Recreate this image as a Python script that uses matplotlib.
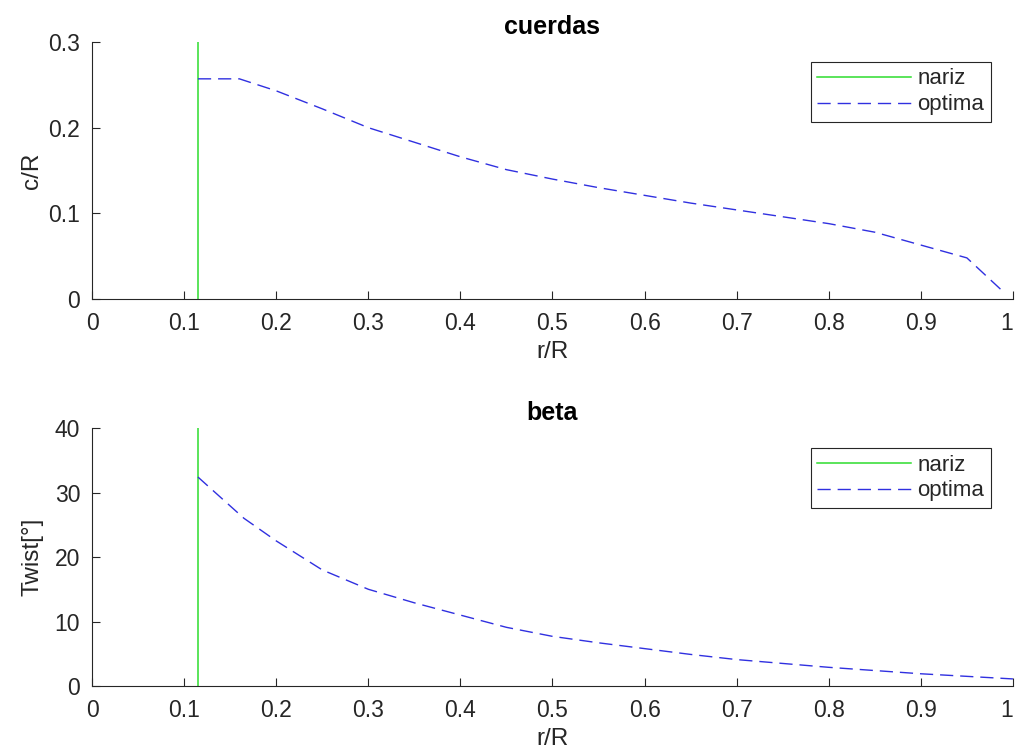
import matplotlib
matplotlib.use("Agg")
import matplotlib.pyplot as plt

# ---- data ----
r_nariz = 0.115
r_chord = [0.115, 0.16, 0.2, 0.25, 0.3, 0.35, 0.4, 0.45, 0.5, 0.55, 0.6,
           0.65, 0.7, 0.75, 0.8, 0.85, 0.9, 0.95, 0.99]
c_chord = [0.257, 0.257, 0.243, 0.222, 0.200, 0.183, 0.166, 0.151, 0.140,
           0.130, 0.121, 0.112, 0.104, 0.096, 0.088, 0.078, 0.063, 0.048, 0.008]
r_twist = [0.115, 0.165, 0.2, 0.25, 0.3, 0.35, 0.4, 0.45, 0.5, 0.55, 0.6,
           0.65, 0.7, 0.75, 0.8, 0.85, 0.9, 0.95, 1.0]
b_twist = [32.4, 26.0, 22.5, 18.0, 15.0, 12.9, 11.0, 9.1, 7.7, 6.7, 5.8,
           4.9, 4.1, 3.5, 2.9, 2.4, 1.9, 1.5, 1.1]
xticks = [0, 0.1, 0.2, 0.3, 0.4, 0.5, 0.6, 0.7, 0.8, 0.9, 1]
xticklabels = ["0", "0.1", "0.2", "0.3", "0.4", "0.5", "0.6", "0.7", "0.8", "0.9", "1"]
yticks_c = [0, 0.1, 0.2, 0.3]
yticklabels_c = ["0", "0.1", "0.2", "0.3"]
yticks_b = [0, 10, 20, 30, 40]

plt.rcParams['font.family'] = ['Liberation Sans', 'DejaVu Sans']
AX = '#262626'
GREEN = '#2edc2e'
BLUE = '#3030e0'
DASH = (0, (9.5, 5))

fig = plt.figure(figsize=(10.17, 7.5), dpi=100)
ax1 = fig.add_axes([0.0905, 0.6013, 0.9055, 0.3427])
ax2 = fig.add_axes([0.0905, 0.0853, 0.9055, 0.3440])


def style(ax):
    for s in ['top', 'right']:
        ax.spines[s].set_visible(False)
    for s in ['left', 'bottom']:
        ax.spines[s].set_color(AX)
        ax.spines[s].set_linewidth(0.8)
    ax.tick_params(direction='in', length=6, width=0.8, colors=AX,
                   labelsize=16.5)
    ax.tick_params(axis='x', pad=9.5)
    ax.tick_params(axis='y', pad=8.5)
    ax.set_xlim(0, 1)
    ax.set_xticks(xticks)
    ax.set_xticklabels(xticklabels)
    # keep the last label ("1") inside the figure edge
    ax.get_xticklabels()[-1].set_horizontalalignment('right')


# top
ax1.plot([r_nariz, r_nariz], [0, 0.3], color=GREEN, lw=1.1, label='nariz')
ax1.plot(r_chord, c_chord, color=BLUE, lw=1.0, ls=DASH, label='optima')
style(ax1)
ax1.set_ylim(0, 0.3)
ax1.set_yticks(yticks_c)
ax1.set_yticklabels(yticklabels_c)
ax1.set_xlabel('r/R', color=AX, fontsize=17.5, labelpad=4)
ax1.set_ylabel('c/R', color=AX, fontsize=17.5, labelpad=4)
ax1.set_title('cuerdas', fontweight='bold', fontsize=18, pad=6)

# bottom
ax2.plot([r_nariz, r_nariz], [0, 40], color=GREEN, lw=1.1, label='nariz')
ax2.plot(r_twist, b_twist, color=BLUE, lw=1.0, ls=DASH, label='optima')
style(ax2)
ax2.set_ylim(0, 40)
ax2.set_yticks(yticks_b)
ax2.set_xlabel('r/R', color=AX, fontsize=17.5, labelpad=4)
ax2.set_ylabel('Twist[°]', color=AX, fontsize=17.5, labelpad=8)
ax2.set_title('beta', fontweight='bold', fontsize=18, pad=6)

for ax in (ax1, ax2):
    leg = ax.legend(loc='upper right', bbox_to_anchor=(0.976, 0.923),
                    borderaxespad=0, fancybox=False, framealpha=1,
                    edgecolor=AX, handlelength=4.2, handletextpad=0.3,
                    borderpad=0.3, labelspacing=0.22, fontsize=16)
    leg.get_frame().set_linewidth(0.8)
    for t in leg.get_texts():
        t.set_color(AX)

fig.savefig('out.png', dpi=100)
